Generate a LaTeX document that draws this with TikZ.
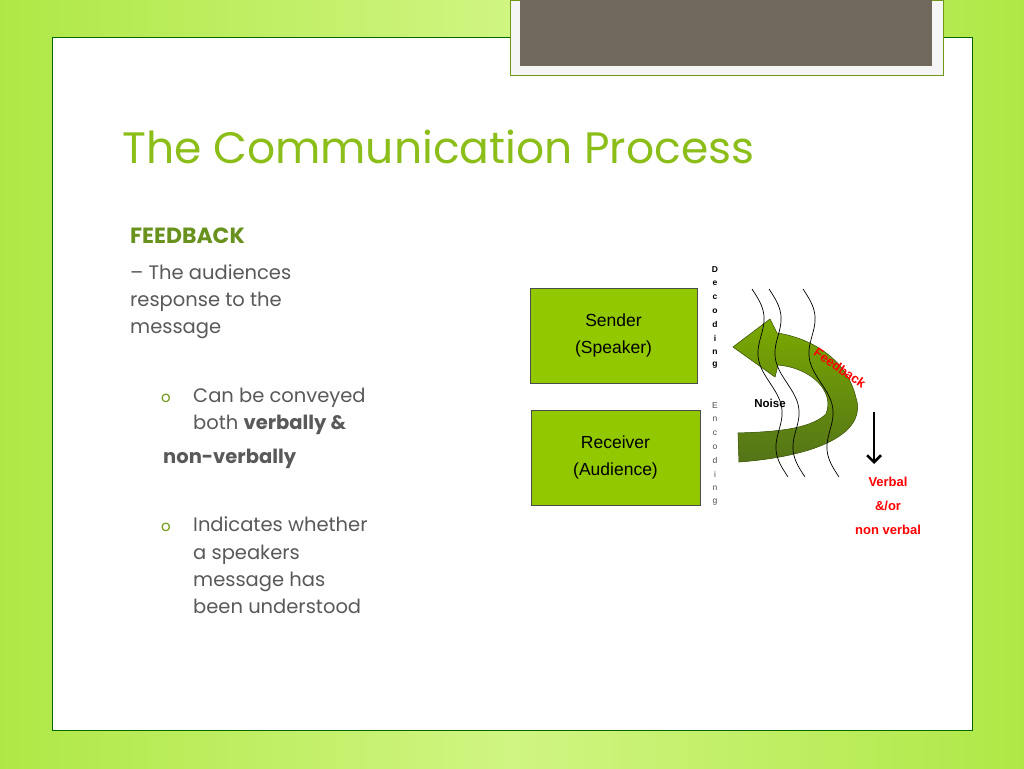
\documentclass[tikz,border=0pt]{standalone}
\usetikzlibrary{arrows.meta}
\usepackage{fontspec}
\setmainfont{Poppins}
\newfontfamily\arial{Liberation Sans}
\begin{document}
\begin{tikzpicture}[x=1pt,y=-1pt,
 body/.style={anchor=base west,inner sep=0,text=black!65,font=\fontsize{19.5}{22}\selectfont},
 dlet/.style={inner sep=0,font=\arial\bfseries\fontsize{8.5}{9}\selectfont},
 elet/.style={inner sep=0,text=black!70,font=\arial\fontsize{8.5}{9}\selectfont},
 boxn/.style={draw=black!70,fill=gbox,minimum width=167pt,minimum height=95pt,font=\arial\fontsize{17.5}{27}\selectfont,align=center},
 red1/.style={text=red,font=\arial\bfseries\fontsize{13}{15}\selectfont,inner sep=0}]
\definecolor{gbg}{RGB}{175,232,70}
\definecolor{gbgl}{RGB}{208,245,130}
\definecolor{ttl}{RGB}{140,190,25}
\definecolor{fb}{RGB}{105,145,30}
\definecolor{gbox}{RGB}{145,200,0}
\definecolor{brn}{RGB}{112,104,90}
\useasboundingbox (0,0) rectangle (1024,768);
\shade[left color=gbg,right color=gbg,middle color=gbgl] (0,0) rectangle (1024,768);
\node[draw=black!60!green,fill=white,minimum width=920pt,minimum height=693pt,inner sep=0,anchor=north west] (panel) at (52,37) {};
\node[draw=ttl!80!black,fill=white!96!black,minimum width=433pt,minimum height=75pt,inner sep=0,anchor=north west] (frame) at (510,0) {};
\node[fill=brn,minimum width=412pt,minimum height=66pt,inner sep=0,anchor=north west] (brown) at (520,0) {};
\node[anchor=base west,inner sep=0,text=ttl,font=\fontsize{44}{50}\selectfont] (title) at (122,163) {The Communication Process};
\node[anchor=base west,inner sep=0,text=fb,font=\bfseries\fontsize{22}{26}\selectfont] (fbk) at (130,243) {FEEDBACK};
\node[body] (l1) at (130,279) {– The audiences};
\node[body] (l2) at (130,306) {response to the};
\node[body] (l3) at (130,333) {message};
\node[body,text=ttl!80!black] (b1) at (161,402) {\fontsize{15}{15}\selectfont o};
\node[body] (l4) at (193,402) {Can be conveyed};
\node[body] (l5) at (193,429) {both \textbf{verbally \&}};
\node[body,font=\bfseries\fontsize{19.5}{22}\selectfont] (l6) at (163,463) {non-verbally};
\node[body,text=ttl!80!black] (b2) at (161,531) {\fontsize{15}{15}\selectfont o};
\node[body] (l7) at (193,531) {Indicates whether};
\node[body] (l8) at (193,559) {a speakers};
\node[body] (l9) at (193,586) {message has};
\node[body] (l10) at (193,613) {been understood};
\node[boxn] (sender) at (613.5,335.5) {Sender\\(Speaker)};
\node[boxn,minimum width=169pt] (recv) at (615.5,457.5) {Receiver\\(Audience)};
\foreach \c [count=\i] in {D,e,c,o,d,i,n,g} \node[dlet] (d\i) at (715,256+\i*13.7) {\c};
\foreach \c [count=\i] in {E,n,c,o,d,i,n,g} \node[elet] (e\i) at (715,392+\i*13.7) {\c};
% feedback ribbon
\fill[top color=gbox!85!black,bottom color=fb!80!black,draw=fb!70!black,line width=0.6pt]
 (739,462) .. controls (830,455) and (866,428) .. (856,398) .. controls (846,355) and (805,337) .. (777,333)
 -- (770,319) -- (733,347) -- (775,377) -- (778,365)
 .. controls (812,368) and (835,392) .. (826,414) .. controls (810,430) and (770,432) .. (738,433) -- cycle;
% noise lines
\foreach \sx in {752,769,803}
 \draw[line width=0.7pt] plot[domain=0:1,samples=60,smooth] ({\sx+36*\x+7*sin(\x*720)}, {289+188*\x});
\node[inner sep=0,font=\arial\bfseries\fontsize{11.5}{13}\selectfont] (noise) at (770,403) {Noise};
\node[red1,rotate=-35] (fbl) at (840,368) {Feedback};
\coordinate (at) at (874,412);
\coordinate (ab) at (874,464);
\draw[line width=2.5pt,-{Straight Barb[length=7pt,width=14pt]}] (at) -- (ab);
\node[red1,align=center,font=\arial\bfseries\fontsize{13}{24}\selectfont] (vb) at (888,506) {Verbal\\\&/or\\non verbal};
\end{tikzpicture}
\end{document}
